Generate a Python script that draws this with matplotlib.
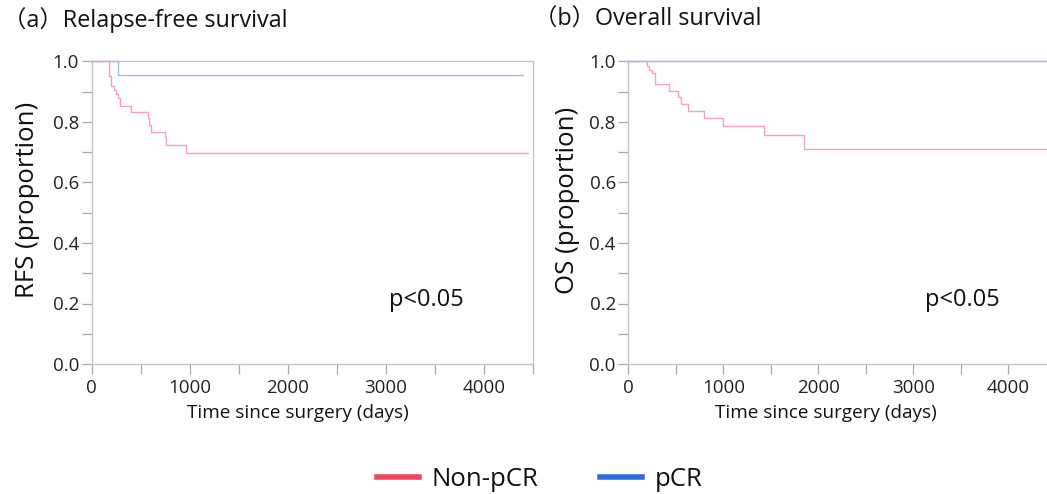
import matplotlib
matplotlib.use("Agg")
import matplotlib.pyplot as plt
from matplotlib.lines import Line2D
from matplotlib.ticker import MultipleLocator

plt.rcParams['font.family'] = ['Open Sans', 'Noto Sans CJK JP', 'DejaVu Sans']

# ---- data ----
rfs_nonpcr_days = [0, 181, 195, 229, 249, 273, 290, 401, 577, 588, 605, 747, 764, 967, 4450]
rfs_nonpcr_surv = [1.0, 0.951, 0.918, 0.907, 0.891, 0.880, 0.852, 0.833, 0.813, 0.791, 0.767, 0.749, 0.725, 0.696, 0.696]
rfs_pcr_days = [0, 266, 4400]
rfs_pcr_surv = [1.0, 0.957, 0.957]

os_nonpcr_days = [0, 193, 215, 246, 281, 432, 526, 551, 632, 797, 993, 1432, 1853, 4500]
os_nonpcr_surv = [1.0, 0.984, 0.972, 0.962, 0.924, 0.904, 0.882, 0.858, 0.835, 0.813, 0.788, 0.757, 0.712, 0.712]
os_pcr_days = [0, 4500]
os_pcr_surv = [1.0, 1.0]

panel_titles = ["（a）Relapse-free survival", "（b）Overall survival"]
y_labels = ["RFS (proportion)", "OS (proportion)"]
x_label = "Time since surgery (days)"
p_text = "p<0.05"
legend_labels = ["Non-pCR", "pCR"]

W, H = 1047, 494
fig = plt.figure(figsize=(W / 100, H / 100), dpi=100)

curve_red = "#f5a3b3"
curve_blue = "#aab9ee"
leg_red = "#f2475a"
leg_blue = "#2d6fe0"
spine_col = "#c4c4c4"
tick_col = "#a8a8a8"


def px_rect(x0, y_top, x1, y_bot):
    return [x0 / W, 1 - y_bot / H, (x1 - x0) / W, (y_bot - y_top) / H]


axL = fig.add_axes(px_rect(91.5, 61.5, 533, 364))
axR = fig.add_axes(px_rect(628.3, 61.5, 1056, 364))

for ax in (axL, axR):
    ax.set_xlim(0, 4500)
    ax.set_ylim(0, 1.0)
    ax.xaxis.set_major_locator(MultipleLocator(1000))
    ax.xaxis.set_minor_locator(MultipleLocator(500))
    ax.yaxis.set_major_locator(MultipleLocator(0.2))
    ax.yaxis.set_minor_locator(MultipleLocator(0.1))
    ax.yaxis.set_major_formatter(matplotlib.ticker.FormatStrFormatter('%.1f'))
    ax.tick_params(which='both', direction='out', length=7, width=0.9,
                   color=tick_col, labelsize=13.5, labelcolor='#222222')
    ax.tick_params(axis='x', pad=4)
    ax.tick_params(axis='y', pad=2)
    for s in ax.spines.values():
        s.set_color(spine_col)
        s.set_linewidth(1.0)

axL.step(rfs_nonpcr_days, rfs_nonpcr_surv, where='post', color=curve_red, lw=1.0, clip_on=False, zorder=3)
axL.step(rfs_pcr_days, rfs_pcr_surv, where='post', color=curve_blue, lw=1.0, clip_on=False, zorder=3)
axR.step(os_nonpcr_days, os_nonpcr_surv, where='post', color=curve_red, lw=1.0, clip_on=False, zorder=3)
axR.step(os_pcr_days, os_pcr_surv, where='post', color=curve_blue, lw=1.0, clip_on=False, zorder=3)

axL.text(3410, 0.21, p_text, fontsize=17, ha='center', va='center', color='#111111')
axR.text(3515, 0.21, p_text, fontsize=17, ha='center', va='center', color='#111111')

# titles
fig.text(3 / W, 1 - 20 / H, panel_titles[0], fontsize=16.8, ha='left', va='center', color='#111111')
fig.text(534 / W, 1 - 20 / H, panel_titles[1], fontsize=16.8, ha='left', va='center', color='#111111')

# y labels
fig.text(28 / W, 1 - 200 / H, y_labels[0], fontsize=18.5, rotation=90, ha='center', va='center', color='#111111')
fig.text(567 / W, 1 - 200 / H, y_labels[1], fontsize=18.5, rotation=90, ha='center', va='center', color='#111111')

# x labels
fig.text(298 / W, 1 - 413 / H, x_label, fontsize=13.6, ha='center', va='center', color='#111111')
fig.text(826 / W, 1 - 413 / H, x_label, fontsize=13.6, ha='center', va='center', color='#111111')

# legend
handles = [Line2D([], [], color=leg_red, lw=4), Line2D([], [], color=leg_blue, lw=4)]
fig.legend(handles, legend_labels, loc='center', bbox_to_anchor=(540 / W, 1 - 479 / H),
           ncol=2, frameon=False, fontsize=18.5, handlelength=1.63, handletextpad=0.5,
           columnspacing=2.4, labelcolor='#111111')

fig.savefig("out.png", dpi=100)
